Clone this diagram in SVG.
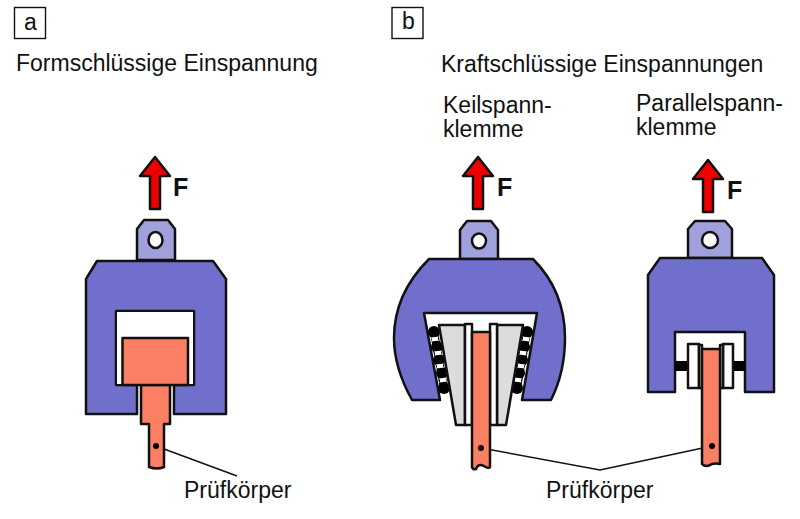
<svg xmlns="http://www.w3.org/2000/svg" width="800" height="519" viewBox="0 0 800 519">
<style>
text{font-family:"Liberation Sans",Arial,sans-serif;fill:#111}
.t{font-size:23px}
.f{font-size:25px;font-weight:bold}
.k{stroke:#111;stroke-width:2.5;stroke-linejoin:round}
.body{fill:#7070cc}
.tab{fill:#a0a0dc}
.red{fill:#ee0000}
.spec{fill:#fb7f62}
.grey{fill:#dcdcdc}
.w{fill:#fff}
.blk{fill:#000}
.ln{fill:none;stroke:#111;stroke-width:1.5}
.box{fill:#fff;stroke:#111;stroke-width:1.4}
.band{fill:none;stroke:#000;stroke-width:8}
</style>
<defs>
<path id="arrow" class="red k" d="M0,0 L15,19 L5,19 L5,52 L-5,52 L-5,19 L-15,19 Z"/>
<path id="bone" class="w" d="M-4,-2 H4 L3,-.7 V.7 L4,2 H-4 L-3,.7 V-.7 Z"/>
</defs>
<rect width="800" height="519" fill="#fff"/>
<g id="connectors">
<path class="ln" d="M156,446 L237,476"/>
<path class="ln" d="M481,448 L600,470 L712,446"/>
</g>
<g id="panel-a">
<rect class="box" x="14.500" y="7.500" width="31" height="31"/>
<text class="t" x="24" y="30">a</text>
<text class="t" x="16" y="71">Formschlüssige Einspannung</text>
<use href="#arrow" x="155" y="157"/>
<text class="f" x="173" y="196">F</text>
<path class="tab k" d="M137,260 V229 L144,220 H168 L175,229 V260 Z"/>
<ellipse class="w k" cx="155.500" cy="240" rx="7" ry="8"/>
<path class="body k" d="M97,261 H213 L226,279 V414 H174 V385 H194 V311 H116 V385 H137 V414 H86 V279 Z"/>
<path class="w" d="M117,312 H193 V384 H117 Z"/>
<path class="spec k" d="M141,385 H170 V424 H164 V467 Q157,470 149,467 V424 H141 Z"/>
<rect class="spec k" x="122.500" y="338" width="65.500" height="47"/>
<circle class="blk" cx="156" cy="446" r="3"/>
<text class="t" x="184" y="498">Prüfkörper</text>
</g>
<g id="panel-b">
<rect class="box" x="392" y="7.500" width="31" height="31"/>
<text class="t" x="402" y="29">b</text>
<text class="t" x="441" y="72">Kraftschlüssige Einspannungen</text>
<text class="t" x="443" y="113">Keilspann-</text>
<text class="t" x="443" y="137">klemme</text>
<text class="t" x="636" y="110.500">Parallelspann-</text>
<text class="t" x="636" y="134.500">klemme</text>
<text class="t" x="546" y="498">Prüfkörper</text>
</g>
<g id="keil">
<use href="#arrow" x="478" y="157"/>
<text class="f" x="497" y="196">F</text>
<path class="tab k" d="M460,259 V230 L467,221 H491 L498,230 V259 Z"/>
<ellipse class="w k" cx="479" cy="241" rx="7" ry="7.500"/>
<path class="body k" d="M429,259 H533 C557,283 565,310 565,338 C565,360 560,382 551,400 H522 L537,313 H424 L440,400 H412 C402,382 394,360 394,338 C394,310 405,283 429,259 Z"/>
<g id="balls-l" class="blk">
<path class="band" d="M434,332 L444,388"/>
<circle cx="434" cy="332" r="6"/><circle cx="437" cy="347" r="6"/><circle cx="439" cy="360" r="6"/><circle cx="442" cy="373" r="6"/><circle cx="444" cy="388" r="6"/>
</g>
<g id="balls-r" class="blk">
<path class="band" d="M527,332 L517,388"/>
<circle cx="527" cy="332" r="6"/><circle cx="524" cy="347" r="6"/><circle cx="522" cy="360" r="6"/><circle cx="519" cy="373" r="6"/><circle cx="517" cy="388" r="6"/>
</g>
<use href="#bone" transform="translate(435,339) rotate(-8)"/>
<use href="#bone" transform="translate(438,353) rotate(-8)"/>
<use href="#bone" transform="translate(440,366) rotate(-8)"/>
<use href="#bone" transform="translate(443,380) rotate(-8)"/>
<use href="#bone" transform="translate(526,339) rotate(8)"/>
<use href="#bone" transform="translate(523,353) rotate(8)"/>
<use href="#bone" transform="translate(521,366) rotate(8)"/>
<use href="#bone" transform="translate(518,380) rotate(8)"/>
<path class="grey k" d="M439,325 H465 V425 H456 Z"/>
<path class="grey k" d="M523,325 H497 V425 H506 Z"/>
<path class="w k" d="M465,324 H472 V425 H465 Z"/>
<path class="w k" d="M490,324 H497 V425 H490 Z"/>
<path class="spec k" d="M472,332 H490 V467 Q488,469 484,466 Q478,463 476,469 Q473,470 472,467 Z"/>
<circle class="blk" cx="481" cy="448" r="3"/>
</g>
<g id="parallel">
<use href="#arrow" x="708" y="160"/>
<text class="f" x="727" y="199">F</text>
<path class="tab k" d="M688,258 V229 L695,221 H725 L732,229 V258 Z"/>
<circle class="w k" cx="710" cy="240" r="8"/>
<path class="body k" d="M660,258 H762 L774,275 V392 H745 V332 H675 V392 H648 V275 Z"/>
<rect class="blk" x="675" y="361" width="13" height="10"/>
<rect class="blk" x="733" y="361" width="12" height="10"/>
<rect class="w k" x="688" y="344" width="11" height="44"/>
<rect class="w k" x="699" y="345" width="3" height="43"/>
<rect class="w k" x="723" y="344" width="10" height="44"/>
<rect class="w k" x="720" y="345" width="3" height="43"/>
<path class="spec k" d="M702,349 H720 V464 Q716,463 712,464 Q706,468 702,464 Z"/>
<circle class="blk" cx="712" cy="446" r="3"/>
</g>
</svg>
